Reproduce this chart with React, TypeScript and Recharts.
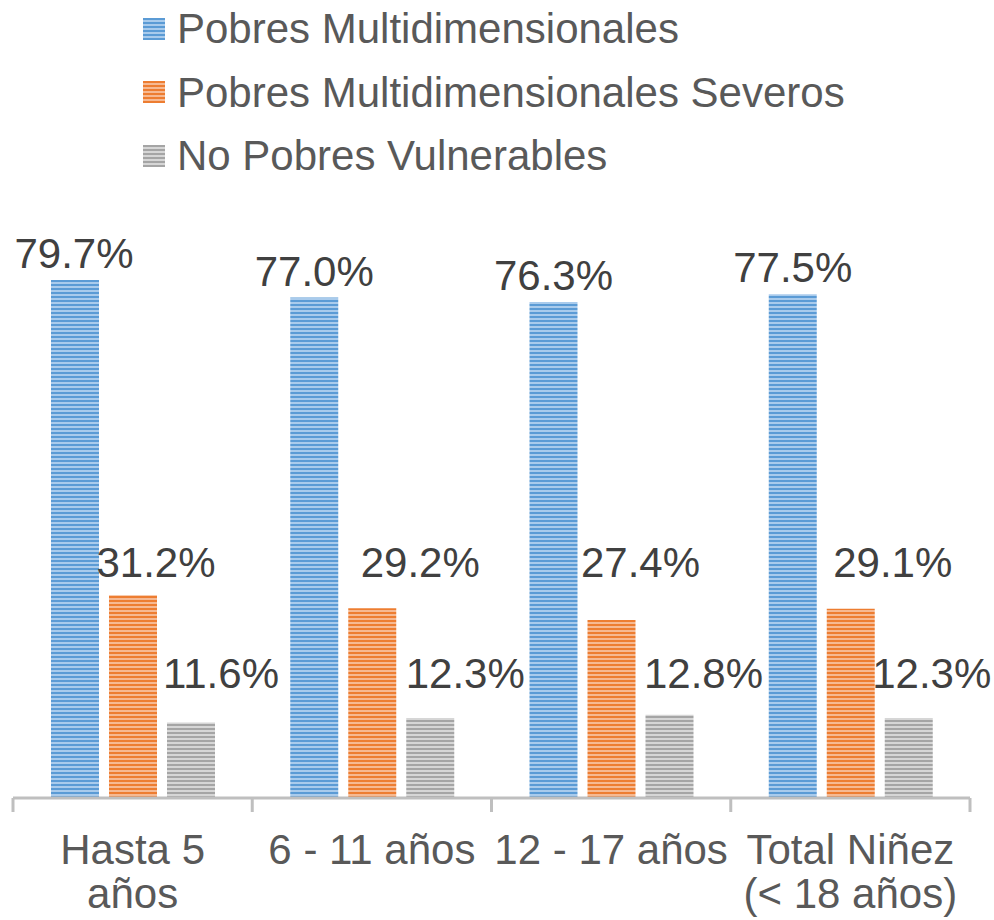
import { Bar, BarChart, LabelList, Legend, XAxis, YAxis } from "recharts";

const categories = ["Hasta 5\naños", "6 - 11 años", "12 - 17 años", "Total Niñez\n(< 18 años)"];
const pobres = [79.7, 77.0, 76.3, 77.5];
const severos = [31.2, 29.2, 27.4, 29.1];
const vulnerables = [11.6, 12.3, 12.8, 12.3];
const seriesNames = ["Pobres Multidimensionales", "Pobres Multidimensionales Severos", "No Pobres Vulnerables"];

const data = categories.map((c, i) => ({
  name: c,
  pobres: pobres[i],
  severos: severos[i],
  vulnerables: vulnerables[i],
}));

// label layout (hand placed in the original)
const severosDx = [23, 48, 29, 42];
const vulnerablesDx = [30, 35, 34, 23];

const W = 994;
const H = 920;
const M = { top: 213, right: 24, bottom: 0, left: 13 };
const AXIS_H = 122;
const step = (W - M.left - M.right) / categories.length;
const FONT = "'Liberation Sans', Arial, sans-serif";

const colors = {
  pobres: ["#5B9BD5", "#A9CBEC"],
  severos: ["#ED7D31", "#F6B992"],
  vulnerables: ["#A5A5A5", "#D6D6D6"],
};

const stripes = (c: string[]) =>
  `repeating-linear-gradient(180deg, ${c[0]} 0px, ${c[0]} 2px, ${c[1]} 2px, ${c[1]} 4px)`;

const StripeDefs = () => (
  <defs>
    {Object.entries(colors).map(([k, c]) => (
      <pattern key={k} id={`p-${k}`} width={8} height={4} patternUnits="userSpaceOnUse">
        <rect width={8} height={4} fill={c[1]} />
        <rect width={8} height={2} fill={c[0]} />
      </pattern>
    ))}
  </defs>
);

const CatTick = (props: any) => {
  const { x, y, payload, index } = props;
  const lines = String(payload.value).split("\n");
  const left = x - step / 2;
  return (
    <g>
      <line x1={left} x2={left} y1={y} y2={y + 14} stroke="#BFBFBF" strokeWidth={3} />
      {index === categories.length - 1 && (
        <line x1={left + step} x2={left + step} y1={y} y2={y + 14} stroke="#BFBFBF" strokeWidth={3} />
      )}
      {lines.map((l, i) => (
        <text key={i} x={x} y={y + 66 + i * 44} textAnchor="middle" fill="#595959" fontSize={42} fontFamily={FONT}>
          {l}
        </text>
      ))}
    </g>
  );
};

const makeLabel = (kind: "top" | "severos" | "vulnerables") => (props: any) => {
  const { x, y, width, height, value, index } = props;
  const cx = x + width / 2;
  let ly = y - 12;
  let dx = kind === "top" && index === 0 ? -1 : 0;
  if (kind !== "top") {
    const pxPerUnit = height / value;
    const anchorVal = kind === "severos" ? 34 : 16.9;
    ly = y + height - anchorVal * pxPerUnit;
    dx = kind === "severos" ? severosDx[index] : vulnerablesDx[index];
  }
  return (
    <text x={cx + dx} y={ly} textAnchor="middle" fill="#404040" fontSize={42} fontFamily={FONT}>
      {`${Number(value).toFixed(1)}%`}
    </text>
  );
};

const LegendBox = () => (
  <div style={{ fontFamily: FONT }}>
    {seriesNames.map((n, i) => (
      <div key={n} style={{ display: "flex", alignItems: "center", height: 63.5 }}>
        <div
          style={{
            width: 22,
            height: 22,
            marginRight: 12,
            background: stripes(Object.values(colors)[i]),
          }}
        />
        <span style={{ fontSize: 42, color: "#595959", lineHeight: "63.5px", whiteSpace: "nowrap" }}>{n}</span>
      </div>
    ))}
  </div>
);

export default function App() {
  return (
    <div style={{ position: "absolute", left: 0, top: 0, width: W, height: H, background: "#fff" }}>
      <BarChart width={W} height={H} data={data} margin={M} barSize={48} barGap={10}>
        <StripeDefs />
        <XAxis
          dataKey="name"
          height={AXIS_H}
          interval={0}
          axisLine={{ stroke: "#BFBFBF", strokeWidth: 3 }}
          tickLine={false}
          tick={<CatTick />}
          tickSize={0}
          tickMargin={0}
        />
        <YAxis hide domain={[0, 90]} />
        <Legend
          layout="vertical"
          align="center"
          verticalAlign="middle"
          wrapperStyle={{ left: 143, top: -3, width: 800 }}
          content={<LegendBox />}
        />
        <Bar dataKey="pobres" fill="url(#p-pobres)" isAnimationActive={false}>
          <LabelList dataKey="pobres" content={makeLabel("top")} />
        </Bar>
        <Bar dataKey="severos" fill="url(#p-severos)" isAnimationActive={false}>
          <LabelList dataKey="severos" content={makeLabel("severos")} />
        </Bar>
        <Bar dataKey="vulnerables" fill="url(#p-vulnerables)" isAnimationActive={false}>
          <LabelList dataKey="vulnerables" content={makeLabel("vulnerables")} />
        </Bar>
      </BarChart>
    </div>
  );
}
